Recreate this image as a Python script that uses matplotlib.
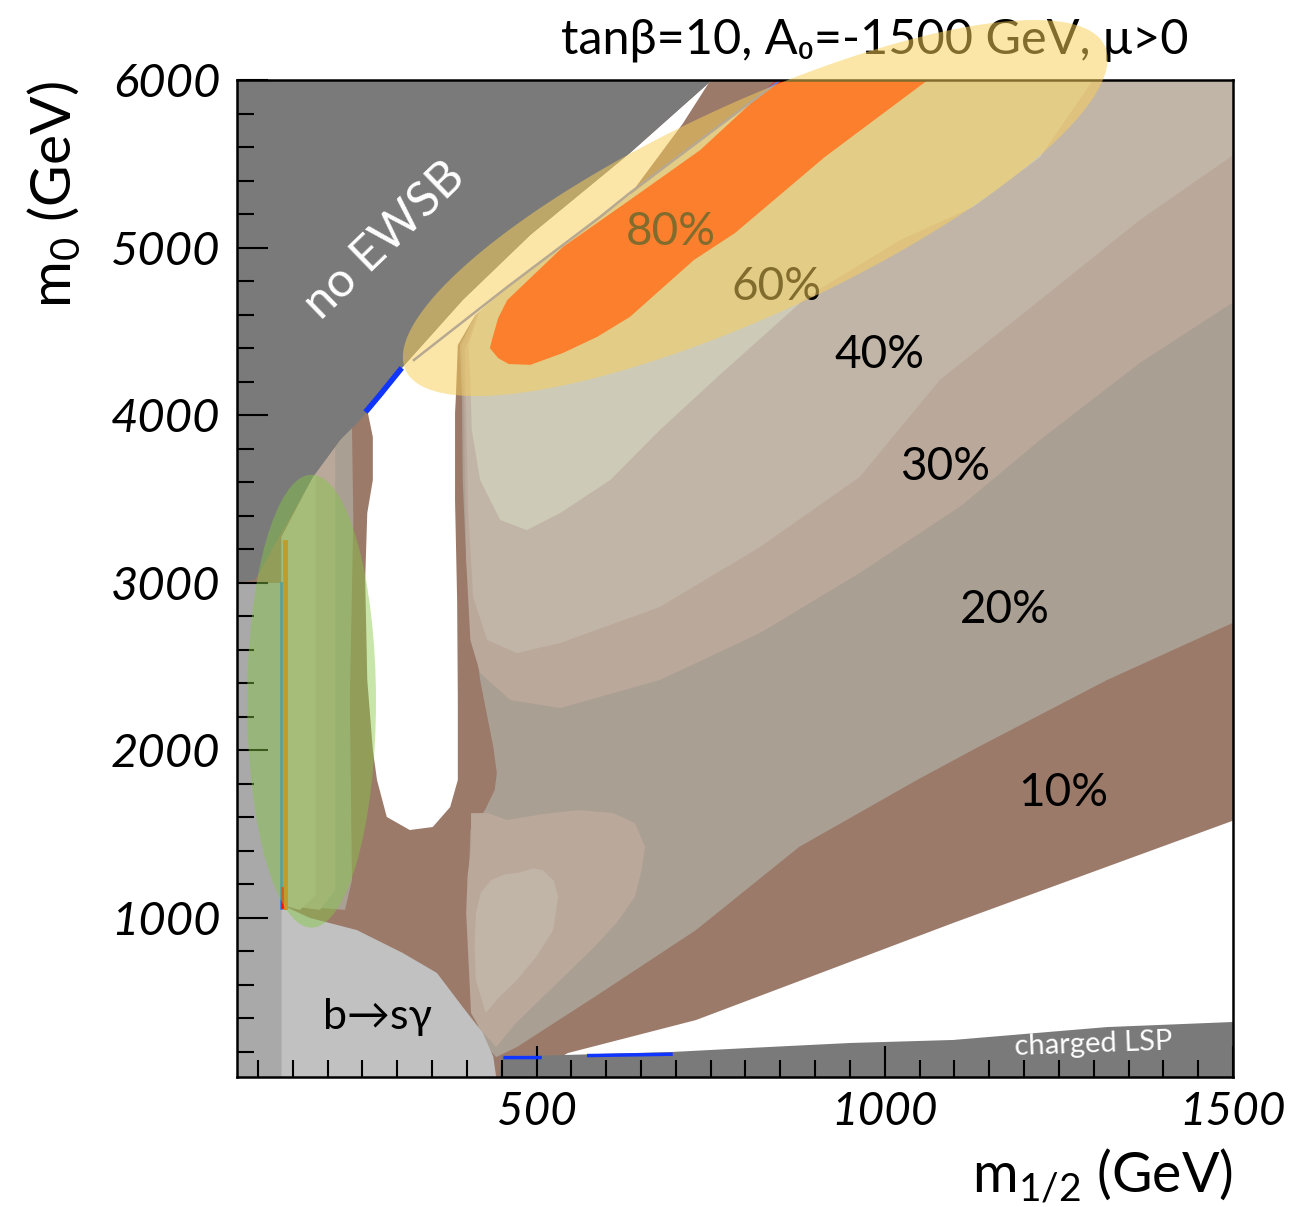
import numpy as np
import matplotlib.pyplot as plt
from matplotlib.patches import Ellipse
from matplotlib.ticker import MultipleLocator

plt.rcParams['font.family'] = ['Lato', 'DejaVu Sans']
plt.rcParams['mathtext.fontset'] = 'custom'
plt.rcParams['mathtext.rm'] = 'Lato'

# --- region boundaries (m1/2, m0 in GeV) ---
no_ewsb_m12 = [60, 70, 96, 132, 179, 218, 247, 275, 304, 394, 491, 634, 752, 779, 60]
no_ewsb_m0 = [3000, 3000, 3016, 3285, 3631, 3852, 3971, 4120, 4269, 4687, 5075, 5564, 6000, 6100, 6100]

lep_m12 = [60, 134, 134, 60]
lep_m0 = [0, 0, 3000, 3000]

bsg_m12 = [134, 175, 242, 308, 357, 394, 423, 438, 442, 442, 134]
bsg_m0 = [1077, 999, 927, 790, 671, 468, 313, 170, 50, 0, 0]

lsp_m12 = [445, 450, 693, 804, 950, 1098, 1319, 1510, 1510]
lsp_m0 = [0, 171, 199, 223, 253, 271, 348, 380, 0]

wedge_m12 = [531, 545, 729, 1098, 1510, 1510, 531]
wedge_m0 = [160, 193, 390, 969, 1595, 0, 0]

hole_m12 = [257, 265, 265, 257, 254, 257, 265, 271, 285, 318, 351, 376, 387, 387, 386,
            383, 383, 384, 387, 412, 458, 591, 634, 710, 750, 752, 634, 491, 394, 304]
hole_m0 = [4031, 3869, 3613, 3416, 3016, 2419, 2001, 1822, 1602, 1524, 1542, 1661, 1822, 2300, 2897,
           3494, 4013, 4090, 4418, 4597, 4765, 5182, 5314, 5740, 6000, 6000, 5564, 5075, 4687, 4269]

# fraction contours (>=20%, >=30%, >=40%, >=60%, >=80%)
p20_m12 = [881, 1510, 1510, 1319, 1134, 1046, 877, 729, 583, 472, 442, 419, 406, 402, 405,
           426, 440, 443, 438, 419, 405, 399, 394, 393, 390, 412, 458, 591, 634, 850]
p20_m0 = [6100, 6100, 2780, 2419, 2019, 1822, 1423, 927, 527, 229, 169, 271, 629, 1106, 1524,
          1643, 1763, 1864, 2019, 2419, 2897, 3135, 3613, 4090, 4418, 4597, 4765, 5182, 5314, 6000]

p30_m12 = [1510, 1510, 1366, 1223, 1110, 964, 821, 677, 534, 462, 419, 405, 399,
           397, 396, 393, 413, 458, 591, 634, 850, 881]
p30_m0 = [6100, 4700, 4311, 3852, 3460, 3058, 2700, 2419, 2252, 2300, 2461, 2658, 3135,
          3613, 4090, 4418, 4609, 4765, 5182, 5314, 6000, 6100]

p40_m12 = [1510, 1510, 1366, 1223, 1079, 964, 821, 677, 534, 472, 429, 409, 402, 400, 397,
           416, 458, 591, 634, 850, 881]
p40_m0 = [6100, 5580, 5164, 4687, 4210, 3631, 3213, 2855, 2640, 2580, 2658, 2915, 3416, 3810, 4389,
          4615, 4765, 5182, 5314, 6000, 6100]

p60_m12 = [1316, 1299, 1223, 1127, 1022, 888, 763, 677, 606, 534, 486, 448, 419, 407, 405, 402,
           419, 458, 591, 634, 850, 881]
p60_m0 = [6100, 6000, 5540, 5242, 5045, 4705, 4240, 3911, 3613, 3416, 3314, 3374, 3613, 3911, 4210, 4418,
          4627, 4765, 5182, 5314, 6000, 6100]

p80_m12 = [433, 436, 445, 458, 538, 634, 735, 870, 1094, 914, 785, 726, 634, 587, 538, 491, 460, 445]
p80_m0 = [4400, 4450, 4580, 4687, 5004, 5284, 5582, 6100, 6100, 5541, 5087, 4926, 4586, 4467, 4371, 4300, 4305, 4340]

lobe30_m12 = [406, 430, 458, 510, 560, 610, 641, 656, 650, 641, 615, 583, 509, 470, 442, 420, 406, 399, 401, 406]
lobe30_m0 = [1625, 1625, 1584, 1620, 1643, 1625, 1566, 1423, 1270, 1124, 970, 826, 527, 370, 229, 330, 432, 1029, 1250, 1423]
lobe40_m12 = [472, 495, 509, 525, 531, 524, 500, 472, 445, 427, 413, 411, 413, 420, 435, 455]
lobe40_m0 = [1267, 1295, 1285, 1220, 1124, 927, 770, 629, 520, 432, 629, 830, 1029, 1150, 1226, 1260]

l20_m12 = [134, 134, 179, 218, 235, 237, 232, 235, 225]
l20_m0 = [1077, 3273, 3631, 3852, 3935, 3374, 2300, 1226, 1047]
l30_m12 = [134, 134, 179, 211, 211, 211, 189]
l30_m0 = [1077, 3273, 3631, 3810, 2300, 1166, 1047]
l40_m12 = [134, 134, 179, 183, 183, 183, 160]
l40_m0 = [1077, 3273, 3631, 3649, 2300, 1136, 1047]

# thin lines
ridge_m12 = [324, 458, 591, 634, 850]
ridge_m0 = [4329, 4765, 5182, 5326, 6000]
blue_edge_m12 = [257, 275, 304]
blue_edge_m0 = [4031, 4120, 4269]
blue_bot_m12 = [455, 505, np.nan, 575, 693]
blue_bot_m0 = [166, 166, np.nan, 178, 186]
vline_orange = (139, [1065, 3240])
vline_blue = (133, [1060, 3000])
vline_red = (134, [1065, 1180])

# ellipses: centre, half-axis vectors
yellow_c = (814, 5236)
yellow_u = (502, 967)
yellow_v = (63, -569)
green_c = (177, 2293)
green_w, green_h = 185, 2703

labels = ['80%', '60%', '40%', '30%', '20%', '10%']
label_m12 = [692, 845, 993, 1086, 1173, 1256]
label_m0 = [5093, 4765, 4359, 3690, 2837, 1745]

c10, c20, c30, c40, c60, c80 = '#9b7a6a', '#aa9f93', '#baa89b', '#c1b5a7', '#cdcab8', '#ff2a00'
dark_gray, lep_gray, bsg_gray = '#7a7a7a', '#a9a9a9', '#c1c1c1'

fig = plt.figure(figsize=(12.91, 12.07), dpi=100)
ax = fig.add_axes([0.1836, 0.1077, 0.7715, 0.826])
ax.set_facecolor(c10)

ax.fill(p20_m12, p20_m0, color=c20, lw=0)
ax.fill(lobe30_m12, lobe30_m0, color=c30, lw=0)
ax.fill(lobe40_m12, lobe40_m0, color=c40, lw=0)
ax.fill(p30_m12, p30_m0, color=c30, lw=0)
ax.fill(p40_m12, p40_m0, color=c40, lw=0)
ax.fill(p60_m12, p60_m0, color=c60, lw=0)
ax.fill(p80_m12, p80_m0, color=c80, lw=0)
ax.fill(l20_m12, l20_m0, color=c20, lw=0)
ax.fill(l30_m12, l30_m0, color=c30, lw=0)
ax.fill(l40_m12, l40_m0, color=c40, lw=0)

ax.fill(hole_m12, hole_m0, color='white', lw=0)
ax.fill(wedge_m12, wedge_m0, color='white', lw=0)
ax.fill(no_ewsb_m12, no_ewsb_m0, color=dark_gray, lw=0)
ax.fill(lep_m12, lep_m0, color=lep_gray, lw=0)
ax.fill(bsg_m12, bsg_m0, color=bsg_gray, lw=0)
ax.fill(lsp_m12, lsp_m0, color=dark_gray, lw=0)

ax.plot(ridge_m12, ridge_m0, color='#6f7fd0', lw=1.8)
ax.plot(blue_edge_m12, blue_edge_m0, color='#1035ff', lw=4)
ax.plot(blue_bot_m12, blue_bot_m0, color='#1035ff', lw=2.5)
ax.plot([vline_orange[0]] * 2, vline_orange[1], color='#f07a1a', lw=3.5)
ax.plot([vline_blue[0]] * 2, vline_blue[1], color='#3f7fd8', lw=2)
ax.plot([vline_red[0]] * 2, vline_red[1], color='#ff1010', lw=2)

ax.set_xlim(70, 1500)
ax.set_ylim(50, 6000)

# text
ax.text(282, 5045, 'no EWSB', color='white', fontsize=35, rotation=44,
        ha='center', va='center', zorder=3)
ax.text(272, 408, 'b→sγ', color='black', fontsize=31, ha='center', va='center', zorder=3)
ax.text(1300, 245, 'charged LSP', color='white', fontsize=21, rotation=2,
        ha='center', va='center', zorder=3)
for lab, x, y in zip(labels, label_m12, label_m0):
    ax.text(x, y, lab, color='black', fontsize=33, ha='center', va='center', zorder=3)
ax.text(0.64, 1.04, 'tanβ=10, A₀=-1500 GeV, μ>0', transform=ax.transAxes,
        fontsize=35, ha='center', va='center', zorder=3, clip_on=False)

# ellipses on top
t = np.linspace(0, 2 * np.pi, 300)
ex = yellow_c[0] + yellow_u[0] * np.cos(t) + yellow_v[0] * np.sin(t)
ey = yellow_c[1] + yellow_u[1] * np.cos(t) + yellow_v[1] * np.sin(t)
ax.fill(ex, ey, color='#f9cf58', alpha=0.52, lw=0, zorder=5, clip_on=False)
ax.add_patch(Ellipse(green_c, green_w, green_h, color='#85c843', alpha=0.45, lw=0, zorder=5))

# axes styling
ax.set_xticks([500, 1000, 1500])
ax.set_yticks([1000, 2000, 3000, 4000, 5000, 6000])
ax.xaxis.set_minor_locator(MultipleLocator(50))
ax.yaxis.set_minor_locator(MultipleLocator(200))
ax.tick_params(which='both', direction='in', width=1.5, colors='black')
ax.tick_params(which='major', length=22)
ax.tick_params(which='minor', length=12)
ax.tick_params(axis='y', pad=12, labelsize=34)
ax.tick_params(axis='x', pad=10, labelsize=33)
for lab in ax.get_xticklabels() + ax.get_yticklabels():
    lab.set_fontstyle('italic')
for s in ax.spines.values():
    s.set_linewidth(1.8)

ax.set_xlabel(r'm$_{\mathregular{1/2}}$ (GeV)', fontsize=40, ha='right', va='center')
ax.xaxis.set_label_coords(1.0, -0.098)
ax.set_ylabel(r'm$_{\mathregular{0}}$ (GeV)', fontsize=41, ha='center', va='center')
ax.yaxis.set_label_coords(-0.183, 0.885)

fig.savefig('out.png', dpi=100)
